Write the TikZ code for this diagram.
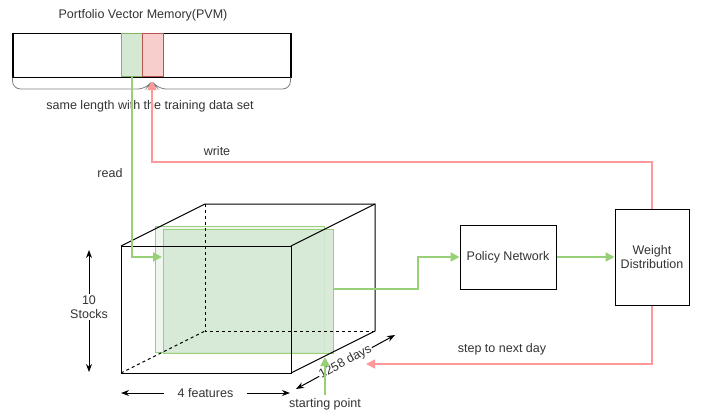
\documentclass[tikz,border=0pt]{standalone}
\usepackage{fontspec}
\setmainfont{Liberation Sans}
\usetikzlibrary{
    positioning,
    arrows.meta
}
\definecolor{cellgreen}{HTML}{D5E8D4}
\definecolor{edgegreen}{HTML}{82B366}
\definecolor{flowgreen}{HTML}{97D077}
\definecolor{cellred}{HTML}{F8CECC}
\definecolor{edgered}{HTML}{B85450}
\definecolor{flowred}{HTML}{FF9999}
\definecolor{txt}{HTML}{333333}

\begin{document}
\begin{tikzpicture}[x=1pt,y=-1pt,
    every node/.style={text=txt,font=\fontsize{12.5}{14.5}\selectfont},
    box/.style={draw,line width=1pt,fill=white,align=center,inner sep=2pt},
    greenflow/.style={draw=flowgreen,line width=2pt,-{Triangle[length=9pt,width=9pt]}},
    redflow/.style={draw=flowred,line width=1.5pt,-{Triangle[length=9pt,width=9pt]}},
    dimarrow/.style={line width=1pt,{Stealth[length=8pt,width=6pt]}-{Stealth[length=8pt,width=6pt]}},
    hidden/.style={dashed,line width=1pt}]

\useasboundingbox (0,0) rectangle (701,413);

% portfolio vector memory
\node (pvmtitle) at (143,15) {Portfolio Vector Memory(PVM)};
\node[draw,line width=1pt,minimum width=277pt,minimum height=44pt,inner sep=0pt] (pvm) at (151.5,55) {};
\draw[line width=2pt] (pvm.north west) -- (pvm.south west);
\draw[line width=2pt] (pvm.north east) -- (pvm.south east);
\node[fill=cellgreen,draw=edgegreen,line width=0.6pt,minimum width=21pt,minimum height=43pt,inner sep=0pt] (cellread) at (131.5,55) {};
\node[fill=cellred,draw=edgered,line width=0.6pt,minimum width=21pt,minimum height=43pt,inner sep=0pt] (cellwrite) at (152.5,55) {};
\coordinate (bracetip) at (152,81);
\draw[gray,line width=0.8pt,rounded corners=8pt] (pvm.south west) |- (146,89) -- (bracetip) -- (158,89) -| (pvm.south east);
\node (pvmnote) at (150,106) {same length with the training data set};

% data cube
\coordinate (fa) at (121,246);
\coordinate (fb) at (291,246);
\coordinate (fc) at (291,373);
\coordinate (fd) at (121,373);
\coordinate (ba) at (205,204);
\coordinate (bb) at (375,204);
\coordinate (bc) at (375,331);
\coordinate (bd) at (205,331);

% green time slices
\fill[cellgreen,fill opacity=0.4] (155,226) rectangle (324,352);
\draw[flowgreen,line width=0.8pt] (155,226) rectangle (324,352);
\fill[cellgreen,fill opacity=0.9] (163,229) rectangle (333,353);
\draw[flowgreen,line width=0.8pt] (163,229) rectangle (333,353);

\draw[hidden] (ba)--(bd)--(bc);
\draw[hidden] (fd)--(bd);
\draw[line width=1pt] (fa)--(fb)--(fc)--(fd)--cycle;
\draw[line width=1pt] (fa)--(ba)--(bb)--(bc)--(fc);
\draw[line width=1pt] (fb)--(bb);

% dimensions
\coordinate (stka) at (89,250);
\coordinate (stkb) at (89,372);
\draw[dimarrow] (stka) -- (stkb);
\node[fill=white,align=center,inner sep=1pt] (stocks) at (89,307) {10\\Stocks};
\coordinate (feata) at (121,393);
\coordinate (featb) at (290,393);
\draw[dimarrow] (feata) -- (featb) node[midway,fill=white,inner xsep=14pt,inner ysep=1pt] (features) {4 features};
\coordinate (daysa) at (296,389);
\coordinate (daysb) at (395,335);
\draw[dimarrow] (daysa) -- (daysb) node[midway,sloped,fill=white,inner sep=1pt] (days) {1258 days};

\node (start) at (325,404) {starting point};
\coordinate (startpt) at (325,357);
\draw[greenflow] (start.north) -- (startpt);

% network
\node[box,minimum width=96pt,minimum height=64pt] (policy) at (508,257) {Policy Network};
\node[box,minimum width=74pt,minimum height=96pt] (weight) at (652,257) {Weight\\Distribution};

\coordinate (readin) at (162,257);
\coordinate (sliceout) at (333,289);
\coordinate (writebend) at (152,162);
\coordinate (nextday) at (366,364);

\draw[greenflow] (cellread.south) |- (readin);
\node (readlbl) at (110,173) {read};
\draw[greenflow] (sliceout) -- ++(85,0) |- (policy.west);
\draw[greenflow] (policy) -- (weight);
\draw[redflow] (weight.north) |- (writebend) -- (bracetip);
\node (writelbl) at (217,151) {write};
\draw[redflow] (weight.south) |- (nextday);
\node (steplbl) at (502,349) {step to next day};

\end{tikzpicture}
\end{document}
